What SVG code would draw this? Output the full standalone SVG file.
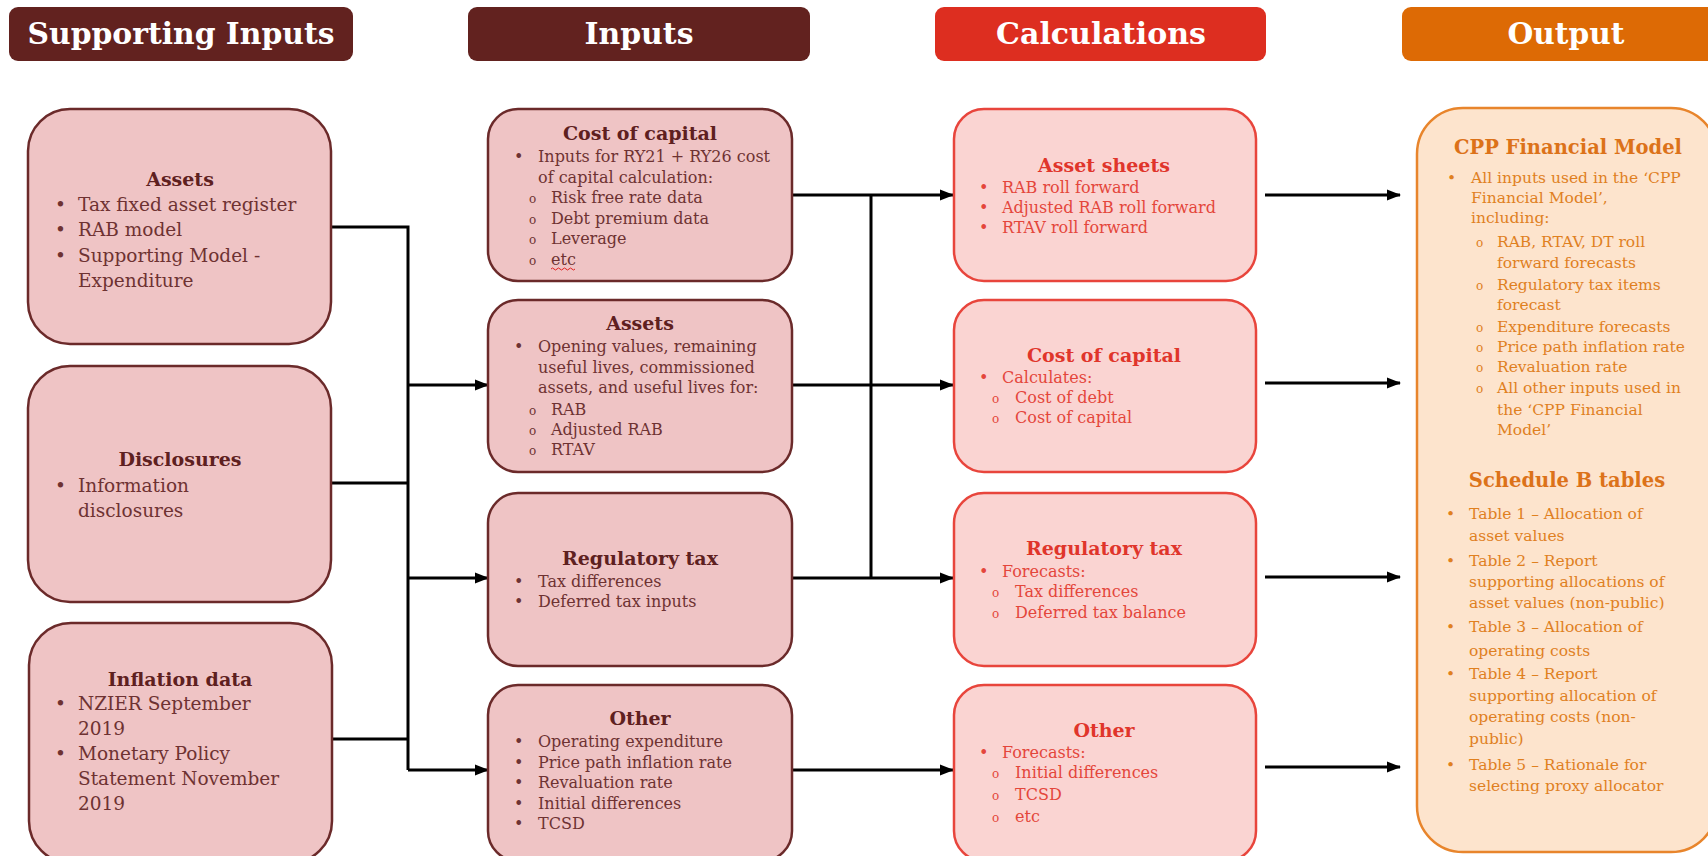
<svg xmlns="http://www.w3.org/2000/svg" width="1708" height="856" viewBox="0 0 1708 856">
<style>
text{font-family:"DejaVu Serif","Liberation Serif",serif}
.hdr{fill:#fff;font-weight:bold;font-size:29px;text-anchor:middle}
.b1{fill:#efc4c5;stroke:#6b2a2a;stroke-width:2.5}
.b3{fill:#fad4d2;stroke:#e8453c;stroke-width:2.5}
.b4{fill:#fde4cd;stroke:#e8852c;stroke-width:2.5}
.t1{fill:#5e2020;font-weight:bold;font-size:19px;text-anchor:middle}
.s1{fill:#6e3232;font-size:18.5px}
.s2{fill:#6e3232;font-size:16px}
.t3{fill:#e0352b;font-weight:bold;font-size:19px;text-anchor:middle}
.s3{fill:#e4463b;font-size:16px}
.t4{fill:#dc7219;font-weight:bold;font-size:19.5px;text-anchor:middle}
.s4{fill:#e0801f;font-size:15.5px}
.sub{font-size:12px}
.conn{fill:none;stroke:#000;stroke-width:3}
</style>
<defs>
<marker id="ah" markerUnits="userSpaceOnUse" markerWidth="14" markerHeight="12" refX="13" refY="6" orient="auto">
<path d="M0,0.5 L14,6 L0,11.5 Z" fill="#000"/>
</marker>
</defs>

<g id="headers">
<rect x="9" y="7" width="344" height="54" rx="9" fill="#62221f"/>
<text class="hdr" x="181" y="44" textLength="307" lengthAdjust="spacingAndGlyphs">Supporting Inputs</text>
<rect x="468" y="7" width="342" height="54" rx="9" fill="#62221f"/>
<text class="hdr" x="639" y="44" textLength="109" lengthAdjust="spacingAndGlyphs">Inputs</text>
<rect x="935" y="7" width="331" height="54" rx="9" fill="#dd2e20"/>
<text class="hdr" x="1101" y="44" textLength="210" lengthAdjust="spacingAndGlyphs">Calculations</text>
<rect x="1402" y="7" width="330" height="54" rx="9" fill="#dd6a05"/>
<text class="hdr" x="1566" y="44" textLength="117" lengthAdjust="spacingAndGlyphs">Output</text>
</g>

<g id="connectors">
<path class="conn" d="M332,227 H408 V770"/>
<path class="conn" d="M332,483 H408"/>
<path class="conn" d="M332,739 H408"/>
<path class="conn" d="M408,385 H488" marker-end="url(#ah)"/>
<path class="conn" d="M408,578 H488" marker-end="url(#ah)"/>
<path class="conn" d="M408,770 H488" marker-end="url(#ah)"/>
<path class="conn" d="M792,195 H953" marker-end="url(#ah)"/>
<path class="conn" d="M871,195 V578"/>
<path class="conn" d="M792,385 H953" marker-end="url(#ah)"/>
<path class="conn" d="M792,578 H953" marker-end="url(#ah)"/>
<path class="conn" d="M792,770 H953" marker-end="url(#ah)"/>
<path class="conn" d="M1265,195 H1400" marker-end="url(#ah)"/>
<path class="conn" d="M1265,383 H1400" marker-end="url(#ah)"/>
<path class="conn" d="M1265,577 H1400" marker-end="url(#ah)"/>
<path class="conn" d="M1265,767 H1400" marker-end="url(#ah)"/>
</g>

<g id="sup-assets">
<rect class="b1" x="28" y="109" width="303" height="235" rx="42"/>
<text class="t1" x="180" y="186">Assets</text>
<text class="s1" x="55" y="211">•</text><text class="s1" x="78" y="211">Tax fixed asset register</text>
<text class="s1" x="55" y="236">•</text><text class="s1" x="78" y="236">RAB model</text>
<text class="s1" x="55" y="262">•</text><text class="s1" x="78" y="262">Supporting Model -</text>
<text class="s1" x="78" y="287">Expenditure</text>
</g>

<g id="sup-disclosures">
<rect class="b1" x="28" y="366" width="303" height="236" rx="42"/>
<text class="t1" x="180" y="466">Disclosures</text>
<text class="s1" x="55" y="492">•</text><text class="s1" x="78" y="492">Information</text>
<text class="s1" x="78" y="517">disclosures</text>
</g>

<g id="sup-inflation">
<rect class="b1" x="29" y="623" width="303" height="240" rx="42"/>
<text class="t1" x="180" y="686">Inflation data</text>
<text class="s1" x="55" y="710">•</text><text class="s1" x="78" y="710">NZIER September</text>
<text class="s1" x="78" y="735">2019</text>
<text class="s1" x="55" y="760">•</text><text class="s1" x="78" y="760">Monetary Policy</text>
<text class="s1" x="78" y="785">Statement November</text>
<text class="s1" x="78" y="810">2019</text>
</g>

<g id="in-coc">
<rect class="b1" x="488" y="109" width="304" height="172" rx="30"/>
<text class="t1" x="640" y="140">Cost of capital</text>
<text class="s2" x="514" y="162">•</text><text class="s2" x="538" y="162">Inputs for RY21 + RY26 cost</text>
<text class="s2" x="538" y="183">of capital calculation:</text>
<text class="s2 sub" x="529" y="203">o</text><text class="s2" x="551" y="203">Risk free rate data</text>
<text class="s2 sub" x="529" y="224">o</text><text class="s2" x="551" y="224">Debt premium data</text>
<text class="s2 sub" x="529" y="244">o</text><text class="s2" x="551" y="244">Leverage</text>
<text class="s2 sub" x="529" y="265">o</text><text class="s2" x="551" y="265">etc</text>
<path d="M551,269 q1.5,-2 3,0 t3,0 t3,0 t3,0 t3,0 t3,0 t3,0 t3,0" fill="none" stroke="#e02020" stroke-width="1"/>
</g>

<g id="in-assets">
<rect class="b1" x="488" y="300" width="304" height="172" rx="30"/>
<text class="t1" x="640" y="330">Assets</text>
<text class="s2" x="514" y="352">•</text><text class="s2" x="538" y="352">Opening values, remaining</text>
<text class="s2" x="538" y="373">useful lives, commissioned</text>
<text class="s2" x="538" y="393">assets, and useful lives for:</text>
<text class="s2 sub" x="529" y="415">o</text><text class="s2" x="551" y="415">RAB</text>
<text class="s2 sub" x="529" y="435">o</text><text class="s2" x="551" y="435">Adjusted RAB</text>
<text class="s2 sub" x="529" y="455">o</text><text class="s2" x="551" y="455">RTAV</text>
</g>

<g id="in-regtax">
<rect class="b1" x="488" y="493" width="304" height="173" rx="30"/>
<text class="t1" x="640" y="565">Regulatory tax</text>
<text class="s2" x="514" y="587">•</text><text class="s2" x="538" y="587">Tax differences</text>
<text class="s2" x="514" y="607">•</text><text class="s2" x="538" y="607">Deferred tax inputs</text>
</g>

<g id="in-other">
<rect class="b1" x="488" y="685" width="304" height="176" rx="30"/>
<text class="t1" x="640" y="725">Other</text>
<text class="s2" x="514" y="747">•</text><text class="s2" x="538" y="747">Operating expenditure</text>
<text class="s2" x="514" y="768">•</text><text class="s2" x="538" y="768">Price path inflation rate</text>
<text class="s2" x="514" y="788">•</text><text class="s2" x="538" y="788">Revaluation rate</text>
<text class="s2" x="514" y="809">•</text><text class="s2" x="538" y="809">Initial differences</text>
<text class="s2" x="514" y="829">•</text><text class="s2" x="538" y="829">TCSD</text>
</g>

<g id="calc-assets">
<rect class="b3" x="954" y="109" width="302" height="172" rx="30"/>
<text class="t3" x="1104" y="172">Asset sheets</text>
<text class="s3" x="979" y="193">•</text><text class="s3" x="1002" y="193">RAB roll forward</text>
<text class="s3" x="979" y="213">•</text><text class="s3" x="1002" y="213">Adjusted RAB roll forward</text>
<text class="s3" x="979" y="233">•</text><text class="s3" x="1002" y="233">RTAV roll forward</text>
</g>

<g id="calc-coc">
<rect class="b3" x="954" y="300" width="302" height="172" rx="30"/>
<text class="t3" x="1104" y="362">Cost of capital</text>
<text class="s3" x="979" y="383">•</text><text class="s3" x="1002" y="383">Calculates:</text>
<text class="s3 sub" x="992" y="403">o</text><text class="s3" x="1015" y="403">Cost of debt</text>
<text class="s3 sub" x="992" y="423">o</text><text class="s3" x="1015" y="423">Cost of capital</text>
</g>

<g id="calc-regtax">
<rect class="b3" x="954" y="493" width="302" height="173" rx="30"/>
<text class="t3" x="1104" y="555">Regulatory tax</text>
<text class="s3" x="979" y="577">•</text><text class="s3" x="1002" y="577">Forecasts:</text>
<text class="s3 sub" x="992" y="597">o</text><text class="s3" x="1015" y="597">Tax differences</text>
<text class="s3 sub" x="992" y="618">o</text><text class="s3" x="1015" y="618">Deferred tax balance</text>
</g>

<g id="calc-other">
<rect class="b3" x="954" y="685" width="302" height="176" rx="30"/>
<text class="t3" x="1104" y="737">Other</text>
<text class="s3" x="979" y="758">•</text><text class="s3" x="1002" y="758">Forecasts:</text>
<text class="s3 sub" x="992" y="778">o</text><text class="s3" x="1015" y="778">Initial differences</text>
<text class="s3 sub" x="992" y="800">o</text><text class="s3" x="1015" y="800">TCSD</text>
<text class="s3 sub" x="992" y="822">o</text><text class="s3" x="1015" y="822">etc</text>
</g>

<g id="output">
<rect class="b4" x="1417" y="108" width="300" height="744" rx="46"/>
<text class="t4" x="1568" y="154">CPP Financial Model</text>
<text class="s4" x="1447" y="183">•</text><text class="s4" x="1471" y="183">All inputs used in the ‘CPP</text>
<text class="s4" x="1471" y="203">Financial Model’,</text>
<text class="s4" x="1471" y="223">including:</text>
<text class="s4 sub" x="1476" y="247">o</text><text class="s4" x="1497" y="247">RAB, RTAV, DT roll</text>
<text class="s4" x="1497" y="268">forward forecasts</text>
<text class="s4 sub" x="1476" y="290">o</text><text class="s4" x="1497" y="290">Regulatory tax items</text>
<text class="s4" x="1497" y="310">forecast</text>
<text class="s4 sub" x="1476" y="332">o</text><text class="s4" x="1497" y="332">Expenditure forecasts</text>
<text class="s4 sub" x="1476" y="352">o</text><text class="s4" x="1497" y="352">Price path inflation rate</text>
<text class="s4 sub" x="1476" y="372">o</text><text class="s4" x="1497" y="372">Revaluation rate</text>
<text class="s4 sub" x="1476" y="393">o</text><text class="s4" x="1497" y="393">All other inputs used in</text>
<text class="s4" x="1497" y="415">the ‘CPP Financial</text>
<text class="s4" x="1497" y="435">Model’</text>
<text class="t4" x="1567" y="487">Schedule B tables</text>
<text class="s4" x="1446" y="519">•</text><text class="s4" x="1469" y="519">Table 1 – Allocation of</text>
<text class="s4" x="1469" y="541">asset values</text>
<text class="s4" x="1446" y="566">•</text><text class="s4" x="1469" y="566">Table 2 – Report</text>
<text class="s4" x="1469" y="587">supporting allocations of</text>
<text class="s4" x="1469" y="608">asset values (non-public)</text>
<text class="s4" x="1446" y="632">•</text><text class="s4" x="1469" y="632">Table 3 – Allocation of</text>
<text class="s4" x="1469" y="656">operating costs</text>
<text class="s4" x="1446" y="679">•</text><text class="s4" x="1469" y="679">Table 4 – Report</text>
<text class="s4" x="1469" y="701">supporting allocation of</text>
<text class="s4" x="1469" y="722">operating costs (non-</text>
<text class="s4" x="1469" y="744">public)</text>
<text class="s4" x="1446" y="770">•</text><text class="s4" x="1469" y="770">Table 5 – Rationale for</text>
<text class="s4" x="1469" y="791">selecting proxy allocator</text>
</g>
</svg>
